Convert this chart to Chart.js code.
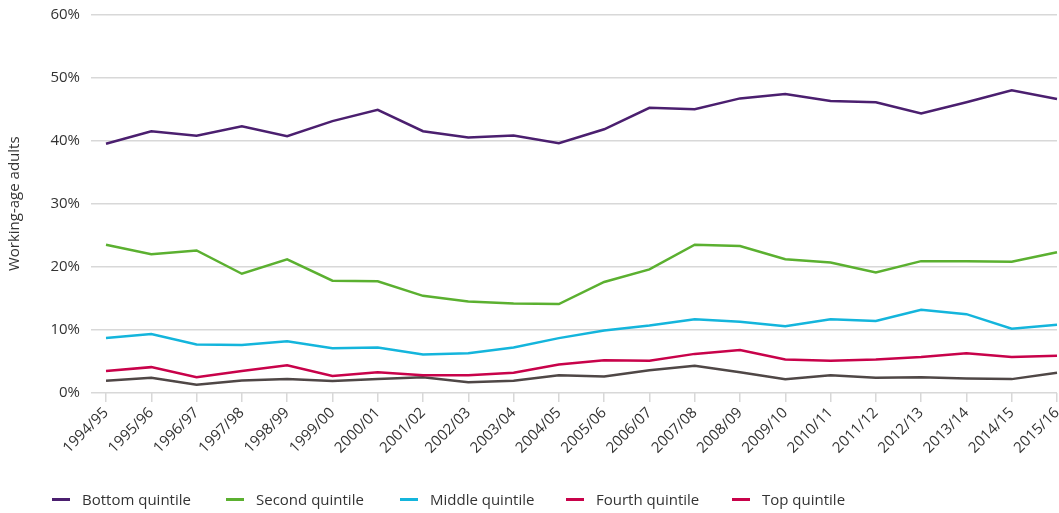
<!DOCTYPE html>
<html>
<head>
<meta charset="utf-8">
<script src="https://cdn.jsdelivr.net/npm/chart.js@4"></script>
<style>
  html, body { margin: 0; padding: 0; background: #fff; }
  #wrap { position: relative; width: 1059px; height: 513px; }
  #legend {
    position: absolute; left: 52px; top: 489px;
    display: flex; font-family: "Open Sans", sans-serif; font-size: 15px; color: #333;
  }
  .item { display: flex; align-items: center; }
  .swatch { width: 18px; height: 3px; margin-right: 12px; }
</style>
</head>
<body>
<div id="wrap">
  <canvas id="chart" width="1059" height="513"></canvas>
  <div id="legend"></div>
</div>
<script>
const years = ['1994/95', '1995/96', '1996/97', '1997/98', '1998/99', '1999/00', '2000/01',
    '2001/02', '2002/03', '2003/04', '2004/05', '2005/06', '2006/07', '2007/08', '2008/09',
    '2009/10', '2010/11', '2011/12', '2012/13', '2013/14', '2014/15', '2015/16'];

const bottomQ = [39.5, 41.5, 40.8, 42.3, 40.7, 43.1, 44.9, 41.5, 40.5, 40.8, 39.6,
    41.8, 45.2, 45.0, 46.7, 47.4, 46.3, 46.1, 44.3, 46.1, 48.0, 46.6];
const secondQ = [23.5, 22.0, 22.6, 18.9, 21.2, 17.8, 17.7, 15.4, 14.5, 14.2, 14.1,
    17.6, 19.6, 23.5, 23.3, 21.2, 20.7, 19.1, 20.9, 20.9, 20.8, 22.3];
const middleQ = [8.7, 9.35, 7.7, 7.6, 8.2, 7.1, 7.2, 6.1, 6.3, 7.2, 8.7,
    9.9, 10.7, 11.7, 11.3, 10.6, 11.7, 11.4, 13.2, 12.5, 10.2, 10.8];
const fourthQ = [3.5, 4.1, 2.5, 3.5, 4.4, 2.7, 3.3, 2.8, 2.8, 3.2, 4.5,
    5.2, 5.1, 6.2, 6.8, 5.3, 5.1, 5.3, 5.7, 6.3, 5.7, 5.9];
const topQ = [1.95, 2.4, 1.3, 2.0, 2.2, 1.9, 2.2, 2.5, 1.7, 1.95, 2.8,
    2.6, 3.6, 4.3, 3.3, 2.2, 2.8, 2.4, 2.5, 2.3, 2.2, 3.2];

const yTicks = [0, 10, 20, 30, 40, 50, 60];

// legend swatch colour differs from line colour for the top quintile, as in the source
const series = [
    { name: 'Bottom quintile', data: bottomQ, color: '#4b1f6f', key: '#4b1f6f' },
    { name: 'Second quintile', data: secondQ, color: '#5bb030', key: '#5bb030' },
    { name: 'Middle quintile', data: middleQ, color: '#14b5dc', key: '#14b5dc' },
    { name: 'Fourth quintile', data: fourthQ, color: '#c8024a', key: '#c8024a' },
    { name: 'Top quintile', data: topQ, color: '#4f4746', key: '#c8024a' },
];

const gridColor = '#d8d8d8';
const font = { family: '"Open Sans", sans-serif', size: 15 };

new Chart(document.getElementById('chart'), {
    type: 'line',
    data: {
        labels: years,
        datasets: series.map((s) => ({
            label: s.name,
            data: s.data,
            borderColor: s.color,
            backgroundColor: s.color,
            borderWidth: 2.5,
            pointRadius: 0,
            tension: 0,
            clip: false,
        })),
    },
    options: {
        responsive: false,
        animation: false,
        layout: { padding: { top: 14.5, right: 2, left: 0, bottom: 0 } },
        plugins: {
            legend: { display: false },
            tooltip: { enabled: false },
        },
        scales: {
            x: {
                offset: false,
                border: { display: false },
                grid: {
                    drawOnChartArea: false,
                    drawTicks: true,
                    tickLength: 9,
                    color: gridColor,
                    lineWidth: 1.5,
                },
                ticks: {
                    color: '#333',
                    font,
                    minRotation: 45,
                    maxRotation: 45,
                    autoSkip: false,
                    padding: 2,
                },
                afterFit: (scale) => {
                    scale.height = 120;
                    scale.paddingLeft = 0;
                    scale.paddingRight = 0;
                },
            },
            y: {
                min: 0,
                max: 60,
                border: { display: false },
                afterBuildTicks: (scale) => {
                    scale.ticks = yTicks.map((v) => ({ value: v }));
                },
                grid: {
                    color: gridColor,
                    lineWidth: 1.5,
                    tickLength: 15,
                },
                ticks: {
                    color: '#333',
                    font,
                    padding: 11,
                    callback: (v) => v + '%',
                },
                title: {
                    display: true,
                    text: 'Working-age adults',
                    color: '#333',
                    font,
                    padding: { top: 6, bottom: 0 },
                },
                afterFit: (scale) => {
                    scale.width = 106;
                    scale.paddingTop = 0;
                    scale.paddingBottom = 0;
                },
            },
        },
    },
});

// ── Legend ────────────────────────────────────────────────────────────────
const legendEl = document.getElementById('legend');
const itemWidths = [174, 174, 166, 166, 120];
series.forEach((s, i) => {
    const item = document.createElement('div');
    item.className = 'item';
    item.style.width = itemWidths[i] + 'px';
    item.innerHTML = `<span class="swatch" style="background:${s.key}"></span><span>${s.name}</span>`;
    legendEl.appendChild(item);
});
</script>
</body>
</html>
